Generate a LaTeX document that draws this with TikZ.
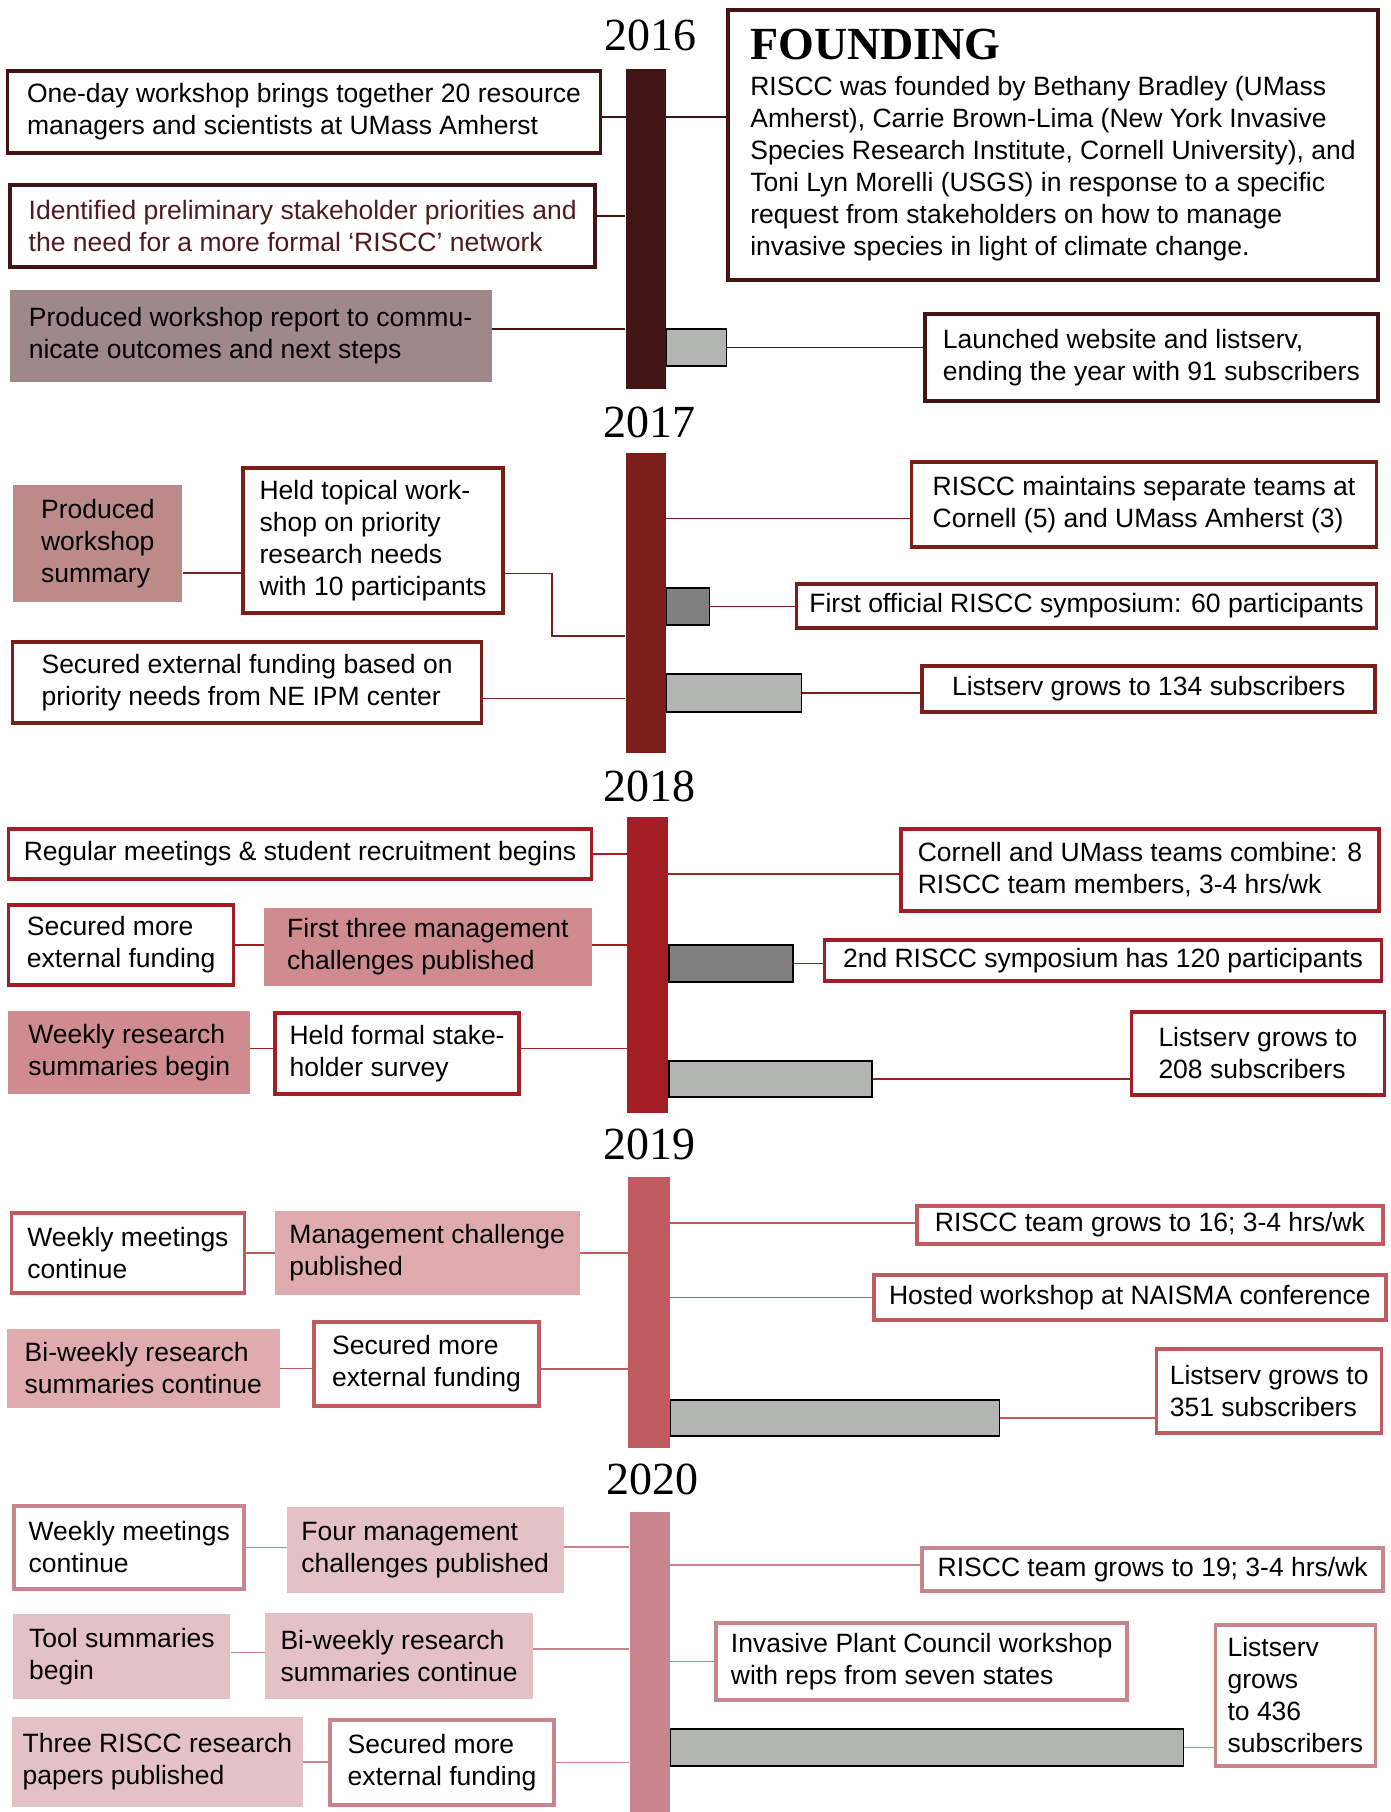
\documentclass[tikz,border=0pt]{standalone}
\usepackage{fontspec}
\setmainfont{Liberation Sans}
\newfontfamily\yearfont{Liberation Serif}
\definecolor{c16}{RGB}{66,20,22}
\definecolor{c17}{RGB}{122,30,26}
\definecolor{c18}{RGB}{163,30,36}
\definecolor{c19}{RGB}{192,91,98}
\definecolor{c20}{RGB}{200,133,141}
\definecolor{f16}{RGB}{158,136,137}
\definecolor{f17}{RGB}{188,138,137}
\definecolor{f18}{RGB}{207,139,143}
\definecolor{f19}{RGB}{223,171,174}
\definecolor{f20}{RGB}{228,193,197}
\definecolor{t16}{RGB}{80,26,30}
\definecolor{subgrey}{RGB}{179,181,179}
\definecolor{symgrey}{RGB}{128,128,128}
\newcommand{\evfont}{\fontsize{26.5}{32}\selectfont}
\begin{document}
\begin{tikzpicture}[x=1pt,y=-1pt,line join=miter]
  \tikzstyle{ev}=[rectangle,align=left,inner sep=0pt,font=\evfont]
  \tikzstyle{box}=[ev,draw,line width=3.5pt,fill=white]
  \tikzstyle{pub}=[ev]
  \tikzstyle{yearbar}=[rectangle,inner sep=0pt,minimum width=40pt]
  \tikzstyle{subs}=[rectangle,draw=black,line width=1.6pt,fill=subgrey,inner sep=0pt,anchor=west]
  \tikzstyle{year}=[font=\yearfont\fontsize{46}{46}\selectfont]
  \tikzstyle{link}=[line width=1.5pt]
  \path[use as bounding box,fill=white] (0,0) rectangle (1391,1812);

  \node[year] (Y16) at (650,35)   {2016};
  \node[year] (Y17) at (649,422)  {2017};
  \node[year] (Y18) at (649,786)  {2018};
  \node[year] (Y19) at (649,1144) {2019};
  \node[year] (Y20) at (652,1479) {2020};

  \node[yearbar,fill=c16,minimum height=320pt] (T16) at (645.5,229) {};
  \node[yearbar,fill=c17,minimum height=300pt] (T17) at (645.5,603) {};
  \node[yearbar,fill=c18,minimum width=41.5pt,minimum height=296pt] (T18) at (647.5,965) {};
  \node[yearbar,fill=c19,minimum width=41.5pt,minimum height=271pt] (T19) at (649,1312.5) {};
  \node[yearbar,fill=c20,minimum height=302pt] (T20) at (649.5,1663) {};

  \node[box,draw=c16,minimum width=593pt,minimum height=82pt] (L16_1) at (304,112) {One-day workshop brings together 20 resource\\managers and scientists at UMass Amherst};
  \node[box,draw=c16,text=t16,minimum width=585pt,minimum height=82pt] (L16_2) at (302.7,226) {Identified preliminary stakeholder priorities and\\the need for a more formal ‘RISCC’ network};
  \node[pub,fill=f16,minimum width=482pt,minimum height=92pt] (L16_3) at (250.5,336) {Produced workshop report to commu-\\nicate outcomes and next steps};
  \node[box,draw=c16,minimum width=650pt,minimum height=270pt] (F16) at (1053,145) {{\yearfont\bfseries\fontsize{46}{46}\selectfont FOUNDING}\\[4pt]RISCC was founded by Bethany Bradley (UMass\\Amherst), Carrie Brown-Lima (New York Invasive\\Species Research Institute, Cornell University), and\\Toni Lyn Morelli (USGS) in response to a specific\\request from stakeholders on how to manage\\invasive species in light of climate change.};
  \node[subs,minimum width=60pt,minimum height=37pt] (S16) at (665.5,347.5) {};
  \node[box,draw=c16,minimum width=453pt,minimum height=87pt] (R16_1) at (1151.4,357.5) {Launched website and listserv,\\ending the year with 91 subscribers};
  \draw[link,c16] ([yshift=-5pt]L16_1.east) -- ([yshift=-5pt]L16_1.east -| F16.west);
  \draw[link,c16] ([yshift=10pt]L16_2.east) -- ([yshift=10pt]L16_2.east -| T16.west);
  \draw[link,c16] ([yshift=7pt]L16_3.east) -- ([yshift=7pt]L16_3.east -| T16.west);
  \draw[link,c16] (S16.east) -- (S16.east -| R16_1.west);

  \node[pub,fill=f17,minimum width=169pt,minimum height=117pt] (L17_1) at (97.8,543.5) {Produced\\workshop\\summary};
  \node[box,draw=c17,minimum width=260pt,minimum height=145pt] (L17_2) at (373,540.5) {Held topical work-\\shop on priority\\research needs\\with 10 participants};
  \node[box,draw=c17,minimum width=469pt,minimum height=81pt] (L17_3) at (247.1,682.5) {Secured external funding based on\\priority needs from NE IPM center};
  \node[box,draw=c17,minimum width=465pt,minimum height=85pt] (R17_1) at (1144,504.5) {RISCC maintains separate teams at\\Cornell (5) and UMass Amherst (3)};
  \node[subs,fill=symgrey,minimum width=43pt,minimum height=37pt] (S17a) at (665.5,606.5) {};
  \node[box,draw=c17,minimum width=580pt,minimum height=44pt] (R17_2) at (1086.5,606) {First official RISCC symposium: 60 participants};
  \node[subs,minimum width=135pt,minimum height=38pt] (S17b) at (665.5,693) {};
  \node[box,draw=c17,minimum width=453pt,minimum height=46pt] (R17_3) at (1148.7,689) {Listserv grows to 134 subscribers};
  \draw[link,c17] ([yshift=-29.5pt]L17_1.east) -- ([yshift=-29.5pt]L17_1.east -| L17_2.west);
  \draw[link,c17] ([yshift=-33pt]L17_2.east) -- ++(47,0) |- ([yshift=-33pt]T17.west);
  \draw[link,c17] ([yshift=-16pt]L17_3.east) -- ([yshift=-16pt]L17_3.east -| T17.west);
  \draw[link,c17] ([yshift=-14pt]R17_1.west) -- ([yshift=-14pt]R17_1.west -| T17.east);
  \draw[link,c17] (S17a.east) -- (S17a.east -| R17_2.west);
  \draw[link,c17] (S17b.east) -- (S17b.east -| R17_3.west);

  \node[box,draw=c18,minimum width=583pt,minimum height=50pt] (L18_1) at (300,854) {Regular meetings \& student recruitment begins};
  \node[box,draw=c18,minimum width=225pt,minimum height=80pt] (L18_2) at (121.2,945) {Secured more\\external funding};
  \node[pub,fill=f18,minimum width=328pt,minimum height=78pt] (L18_3) at (427.9,947) {First three management\\challenges published};
  \node[pub,fill=f18,minimum width=242pt,minimum height=83pt] (L18_4) at (129.2,1052.5) {Weekly research\\summaries begin};
  \node[box,draw=c18,minimum width=244pt,minimum height=81pt] (L18_5) at (397.1,1053.5) {Held formal stake-\\holder survey};
  \node[box,draw=c18,minimum width=478pt,minimum height=82pt] (R18_1) at (1140,870) {Cornell and UMass teams combine: 8\\RISCC team members, 3-4 hrs/wk};
  \node[subs,fill=symgrey,minimum width=124pt,minimum height=37pt] (S18a) at (668.3,963.5) {};
  \node[box,draw=c18,minimum width=557pt,minimum height=41pt] (R18_2) at (1103,960.5) {2nd RISCC symposium has 120 participants};
  \node[subs,minimum width=203pt,minimum height=36pt] (S18b) at (668.3,1079) {};
  \node[box,draw=c18,minimum width=253pt,minimum height=83pt] (R18_3) at (1257.9,1053.5) {Listserv grows to\\208 subscribers};
  \draw[link,c18] (L18_1.east) -- (L18_1.east -| T18.west);
  \draw[link,c18] (L18_2.east) -- (L18_2.east -| L18_3.west);
  \draw[link,c18] ([yshift=2pt]L18_3.east) -- ([yshift=2pt]L18_3.east -| T18.west);
  \draw[link,c18] ([yshift=4pt]L18_4.east) -- ([yshift=4pt]L18_4.east -| L18_5.west);
  \draw[link,c18] ([yshift=5pt]L18_5.east) -- ([yshift=5pt]L18_5.east -| T18.west);
  \draw[link,c18] ([yshift=-4pt]R18_1.west) -- ([yshift=-4pt]R18_1.west -| T18.east);
  \draw[link,c18] (S18a.east) -- (S18a.east -| R18_2.west);
  \draw[link,c18] (S18b.east) -- (S18b.east -| R18_3.west);

  \node[box,draw=c19,minimum width=233pt,minimum height=80pt] (L19_1) at (127.9,1253) {Weekly meetings\\continue};
  \node[pub,fill=f19,minimum width=305pt,minimum height=84pt] (L19_2) at (427.2,1253) {Management challenge\\published};
  \node[pub,fill=f19,minimum width=273pt,minimum height=79pt] (L19_3) at (143.3,1368.5) {Bi-weekly research\\summaries continue};
  \node[box,draw=c19,minimum width=225pt,minimum height=84pt] (L19_4) at (426.5,1364) {Secured more\\external funding};
  \node[box,draw=c19,minimum width=466pt,minimum height=38pt] (R19_1) at (1150,1225) {RISCC team grows to 16; 3-4 hrs/wk};
  \node[box,draw=c19,minimum width=512pt,minimum height=45pt] (R19_2) at (1129.9,1297.5) {Hosted workshop at NAISMA conference};
  \node[subs,minimum width=329pt,minimum height=36pt] (S19) at (669.6,1418) {};
  \node[box,draw=c19,minimum width=225pt,minimum height=84pt] (R19_3) at (1269.2,1391) {Listserv grows to\\351 subscribers};
  \draw[link,c19] (L19_1.east) -- (L19_1.east -| L19_2.west);
  \draw[link,c19] (L19_2.east) -- (L19_2.east -| T19.west);
  \draw[link,c19] (L19_3.east) -- (L19_3.east -| L19_4.west);
  \draw[link,c19] ([yshift=-5pt]L19_4.east) -- ([yshift=-5pt]L19_4.east -| T19.west);
  \draw[link,c19] ([yshift=2pt]R19_1.west) -- ([yshift=2pt]R19_1.west -| T19.east);
  \draw[link,c19] (R19_2.west) -- (R19_2.west -| T19.east);
  \draw[link,c19] (S19.east) -- (S19.east -| R19_3.west);

  \node[box,draw=c20,minimum width=230pt,minimum height=83pt] (L20_1) at (129.2,1547.5) {Weekly meetings\\continue};
  \node[pub,fill=f20,minimum width=277pt,minimum height=86pt] (L20_2) at (425.2,1550) {Four management\\challenges published};
  \node[pub,fill=f20,minimum width=217pt,minimum height=85pt] (L20_3) at (121.9,1656.5) {Tool summaries\\begin};
  \node[pub,fill=f20,minimum width=268pt,minimum height=86pt] (L20_4) at (399.1,1656) {Bi-weekly research\\summaries continue};
  \node[pub,fill=f20,minimum width=291pt,minimum height=90pt] (L20_5) at (157.4,1762) {Three RISCC research\\papers published};
  \node[box,draw=c20,minimum width=224pt,minimum height=85pt] (L20_6) at (442,1762.5) {Secured more\\external funding};
  \node[box,draw=c20,minimum width=461pt,minimum height=43pt] (R20_1) at (1152.7,1569.5) {RISCC team grows to 19; 3-4 hrs/wk};
  \node[box,draw=c20,minimum width=411pt,minimum height=77pt] (R20_2) at (921.7,1661.5) {Invasive Plant Council workshop\\with reps from seven states};
  \node[subs,minimum width=513pt,minimum height=37pt] (S20) at (669.6,1747.5) {};
  \node[box,draw=c20,minimum width=160pt,minimum height=141pt] (R20_3) at (1295.3,1695.5) {Listserv\\grows\\to 436\\subscribers};
  \draw[link,c20] (L20_1.east) -- (L20_1.east -| L20_2.west);
  \draw[link,c20] ([yshift=3pt]L20_2.east) -- ([yshift=3pt]L20_2.east -| T20.west);
  \draw[link,c20] ([yshift=4pt]L20_3.east) -- ([yshift=4pt]L20_3.east -| L20_4.west);
  \draw[link,c20] ([yshift=7pt]L20_4.east) -- ([yshift=7pt]L20_4.east -| T20.west);
  \draw[link,c20] (L20_5.east) -- (L20_5.east -| L20_6.west);
  \draw[link,c20] (L20_6.east) -- (L20_6.east -| T20.west);
  \draw[link,c20] ([yshift=4.5pt]R20_1.west) -- ([yshift=4.5pt]R20_1.west -| T20.east);
  \draw[link,c20] (R20_2.west) -- (R20_2.west -| T20.east);
  \draw[link,c20] (S20.east) -- (S20.east -| R20_3.west);
\end{tikzpicture}
\end{document}
